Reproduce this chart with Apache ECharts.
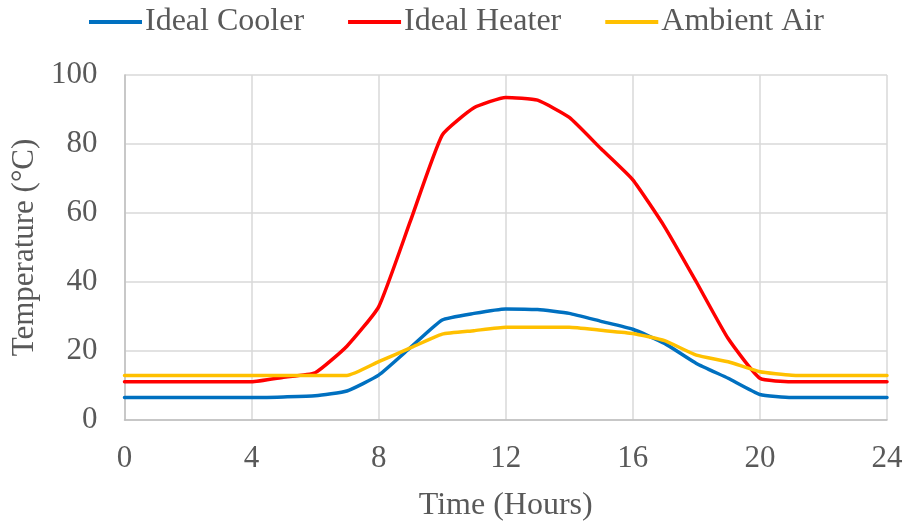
<!DOCTYPE html>
<html>
<head>
<meta charset="utf-8">
<script src="https://cdn.jsdelivr.net/npm/echarts@6/dist/echarts.min.js"></script>
<style>
  html, body { margin: 0; padding: 0; background: #fff; }
  #chart { width: 904px; height: 521px; }
</style>
</head>
<body>
<div id="chart"></div>
<script>
// Hourly temperatures over one day (°C)
const hours = [0, 1, 2, 3, 4, 5, 6, 7, 8, 9, 10, 11, 12, 13, 14, 15, 16, 17, 18, 19, 20, 21, 22, 23, 24];
const idealCooler = [6.5, 6.5, 6.5, 6.5, 6.5, 6.7, 7.0, 8.4, 13.0, 21.0, 29.0, 30.9, 32.2, 32.0, 30.9, 28.6, 26.3, 22.2, 16.4, 12.1, 7.4, 6.5, 6.5, 6.5, 6.5];
const idealHeater = [11.1, 11.1, 11.1, 11.1, 11.1, 12.4, 13.7, 21.4, 32.8, 57.7, 82.6, 90.5, 93.5, 92.7, 87.7, 78.6, 69.6, 56.0, 40.0, 23.6, 12.1, 11.1, 11.1, 11.1, 11.1];
const ambientAir = [12.9, 12.9, 12.9, 12.9, 12.9, 12.9, 12.9, 12.9, 16.9, 20.9, 24.9, 25.9, 26.9, 26.9, 26.9, 26.0, 25.1, 23.0, 18.8, 16.9, 14.0, 13.0, 12.9, 12.9, 12.9];

const xTicks = { min: 0, max: 24, interval: 4 };
const yTicks = { min: 0, max: 100, interval: 20 };

const FONT = '"Liberation Serif", "Times New Roman", serif';
const TEXT = '#595959';

function pairs(ys) { return hours.map((h, i) => [h, ys[i]]); }

function lineSeries(name, ys, color) {
  return {
    name, type: 'line', data: pairs(ys),
    showSymbol: false, smooth: 0.15,
    lineStyle: { color, width: 3.5, cap: 'round', join: 'round' },
    itemStyle: { color }
  };
}

const chart = echarts.init(document.getElementById('chart'), null, { renderer: 'canvas' });
chart.setOption({
  animation: false,
  backgroundColor: '#ffffff',
  textStyle: { fontFamily: FONT, color: TEXT },
  legend: {
    top: 1, left: 84,
    itemWidth: 53, itemHeight: 4, itemGap: 44,
    icon: 'rect',
    textStyle: { fontFamily: FONT, fontSize: 32, color: TEXT, padding: [0, 0, 0, -2] },
    data: ['Ideal Cooler', 'Ideal Heater', 'Ambient Air']
  },
  grid: { left: 124.5, right: 17, top: 75, bottom: 101, outerBoundsMode: 'none', containLabel: false },
  xAxis: {
    type: 'value', min: xTicks.min, max: xTicks.max, interval: xTicks.interval,
    name: 'Time (Hours)', nameLocation: 'middle', nameGap: 70,
    nameTextStyle: { fontFamily: FONT, fontSize: 32, color: TEXT },
    axisLine: { show: true, lineStyle: { color: '#bfbfbf', width: 1.5 } },
    axisTick: { show: false },
    axisLabel: { fontFamily: FONT, fontSize: 31, color: TEXT, margin: 23 },
    splitLine: { show: true, lineStyle: { color: '#d9d9d9', width: 1.5 } }
  },
  yAxis: {
    type: 'value', min: yTicks.min, max: yTicks.max, interval: yTicks.interval,
    name: 'Temperature (°C)', nameLocation: 'middle', nameGap: 82,
    nameTextStyle: { fontFamily: FONT, fontSize: 31, color: TEXT },
    axisLine: { show: true, lineStyle: { color: '#bfbfbf', width: 1.5 } },
    axisTick: { show: false },
    axisLabel: { fontFamily: FONT, fontSize: 31, color: TEXT, margin: 27 },
    splitLine: { show: true, lineStyle: { color: '#d9d9d9', width: 1.5 } }
  },
  series: [
    lineSeries('Ideal Cooler', idealCooler, '#0070C0'),
    lineSeries('Ideal Heater', idealHeater, '#FF0000'),
    lineSeries('Ambient Air', ambientAir, '#FFC000')
  ]
});
</script>
</body>
</html>
